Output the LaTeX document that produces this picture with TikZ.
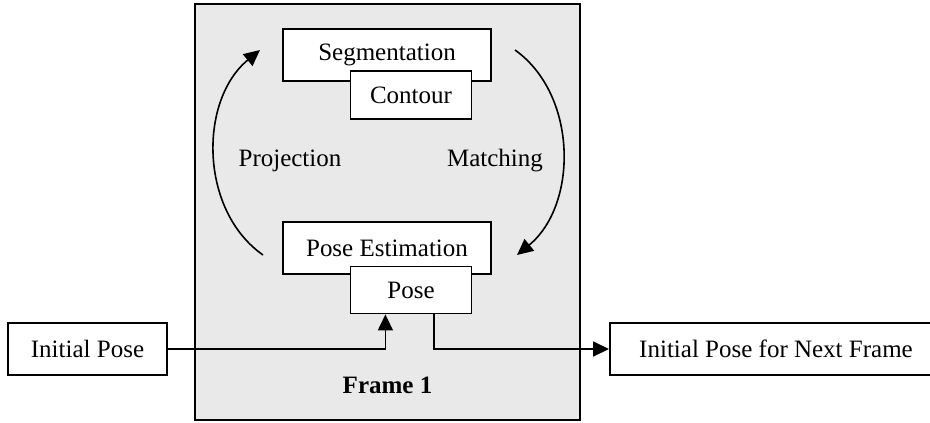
\documentclass[tikz,border=0pt]{standalone}
\usepackage{fontspec}
\setmainfont{Liberation Serif}
\usetikzlibrary{arrows.meta,calc}
\definecolor{bggray}{HTML}{E9E9E9}
\begin{document}
\begin{tikzpicture}[x=1pt,y=-1pt,
  box/.style={draw=black,line width=1.9pt,fill=white,inner sep=0pt,font=\fontsize{25}{30}\selectfont},
  conn/.style={line width=1.6pt,-{Triangle[length=16pt,width=15pt]}},
  lbl/.style={inner sep=0pt,font=\fontsize{25}{30}\selectfont}]
\useasboundingbox (0,0) rectangle (930,423);
\node[draw=black,line width=1.8pt,fill=bggray,minimum width=385pt,minimum height=416pt,inner sep=0pt] (frame) at (387.5,212) {};
\node[box,minimum width=208pt,minimum height=52pt] (seg) at (387,55) {Segmentation};
\node[box,minimum width=121pt,minimum height=48pt] (cont) at (411,95) {Contour};
\node[box,minimum width=208pt,minimum height=52pt] (pe) at (387,248) {Pose Estimation};
\node[box,minimum width=121pt,minimum height=47pt] (pose) at (411,290) {Pose};
\node[box,minimum width=159pt,minimum height=52pt] (init) at (87.5,349) {Initial Pose};
\node[box,minimum width=332pt,minimum height=52pt] (next) at (776,349) {Initial Pose for Next Frame};
\node[lbl,font=\fontsize{25}{30}\selectfont\bfseries] (f1) at (387.5,385) {Frame 1};
\node[lbl] (proj) at (290,161) {Projection};
\node[lbl] (match) at (495,161) {Matching};
\coordinate (pS) at (263,255);
\coordinate (pE) at (260,50);
\draw[conn] (pS) .. controls (199,210) and (199,100) .. (pE);
\coordinate (mS) at (515,50);
\coordinate (mE) at (517,255);
\draw[conn] (mS) .. controls (578,95) and (578,205) .. (mE);
\draw[conn] (init.east) -| ([xshift=-25.6pt]pose.south);
\draw[conn] ([xshift=23pt]pose.south) |- (next.west);
\end{tikzpicture}
\end{document}
